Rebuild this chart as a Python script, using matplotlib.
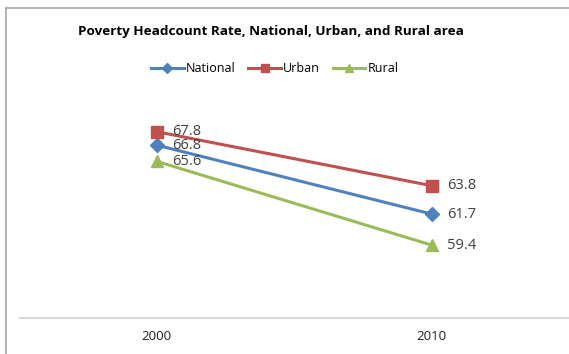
import matplotlib.pyplot as plt
from matplotlib.lines import Line2D

years = ['2000', '2010']
national = [66.8, 61.7]
urban = [67.8, 63.8]
rural = [65.6, 59.4]

W, H = 569, 354
fig = plt.figure(figsize=(W / 100, H / 100), dpi=100)
plt.rcParams['font.family'] = ['Open Sans', 'DejaVu Sans']

# chart border: only top and left edges fall inside the image
border = dict(transform=fig.transFigure, color='#a6a6a6', linewidth=1.2)
fig.lines.append(Line2D([6 / W, 1.0], [(H - 8) / H] * 2, **border))
fig.lines.append(Line2D([6 / W] * 2, [0.0, (H - 8) / H], **border))

ax = fig.add_axes([19.5 / W, (H - 318) / H, 549.5 / W, (318 - 75) / H])
x = [0, 1]
series = [
    ('National', national, '#4f81bd', 'D', 7.5),
    ('Urban', urban, '#c0504d', 's', 8.5),
    ('Rural', rural, '#9bbb59', '^', 9),
]
for name, vals, color, marker, ms in series:
    ax.plot(x, vals, color=color, marker=marker, markersize=ms, linewidth=2.2,
            label=name)
    for xi, v in zip(x, vals):
        ax.annotate(f'{v}', (xi, v), xytext=(11, 0), textcoords='offset points',
                    va='center', ha='left', fontsize=10.5, color='#404040')

ax.set_xlim(-0.5, 1.5)
ax.set_ylim(54, 72)
ax.set_xticks(x)
ax.set_xticklabels(years, fontsize=9.5, color='#202020')
ax.set_yticks([])
ax.tick_params(axis='x', length=0, pad=9)
for side in ['top', 'right', 'left']:
    ax.spines[side].set_visible(False)
ax.spines['bottom'].set_color('#d9d9d9')
ax.spines['bottom'].set_linewidth(1.5)

fig.text(0.477, (H - 32) / H, 'Poverty Headcount Rate, National, Urban, and Rural area',
         ha='center', va='center', fontsize=9.7, fontweight='bold', color='#000000')
fig.legend(loc='center', bbox_to_anchor=(0.483, (H - 69) / H), ncol=3, frameon=False,
           fontsize=9, handlelength=2.6, columnspacing=1.0, handletextpad=0.2,
           markerscale=0.7)

fig.savefig('out.png', dpi=100)
